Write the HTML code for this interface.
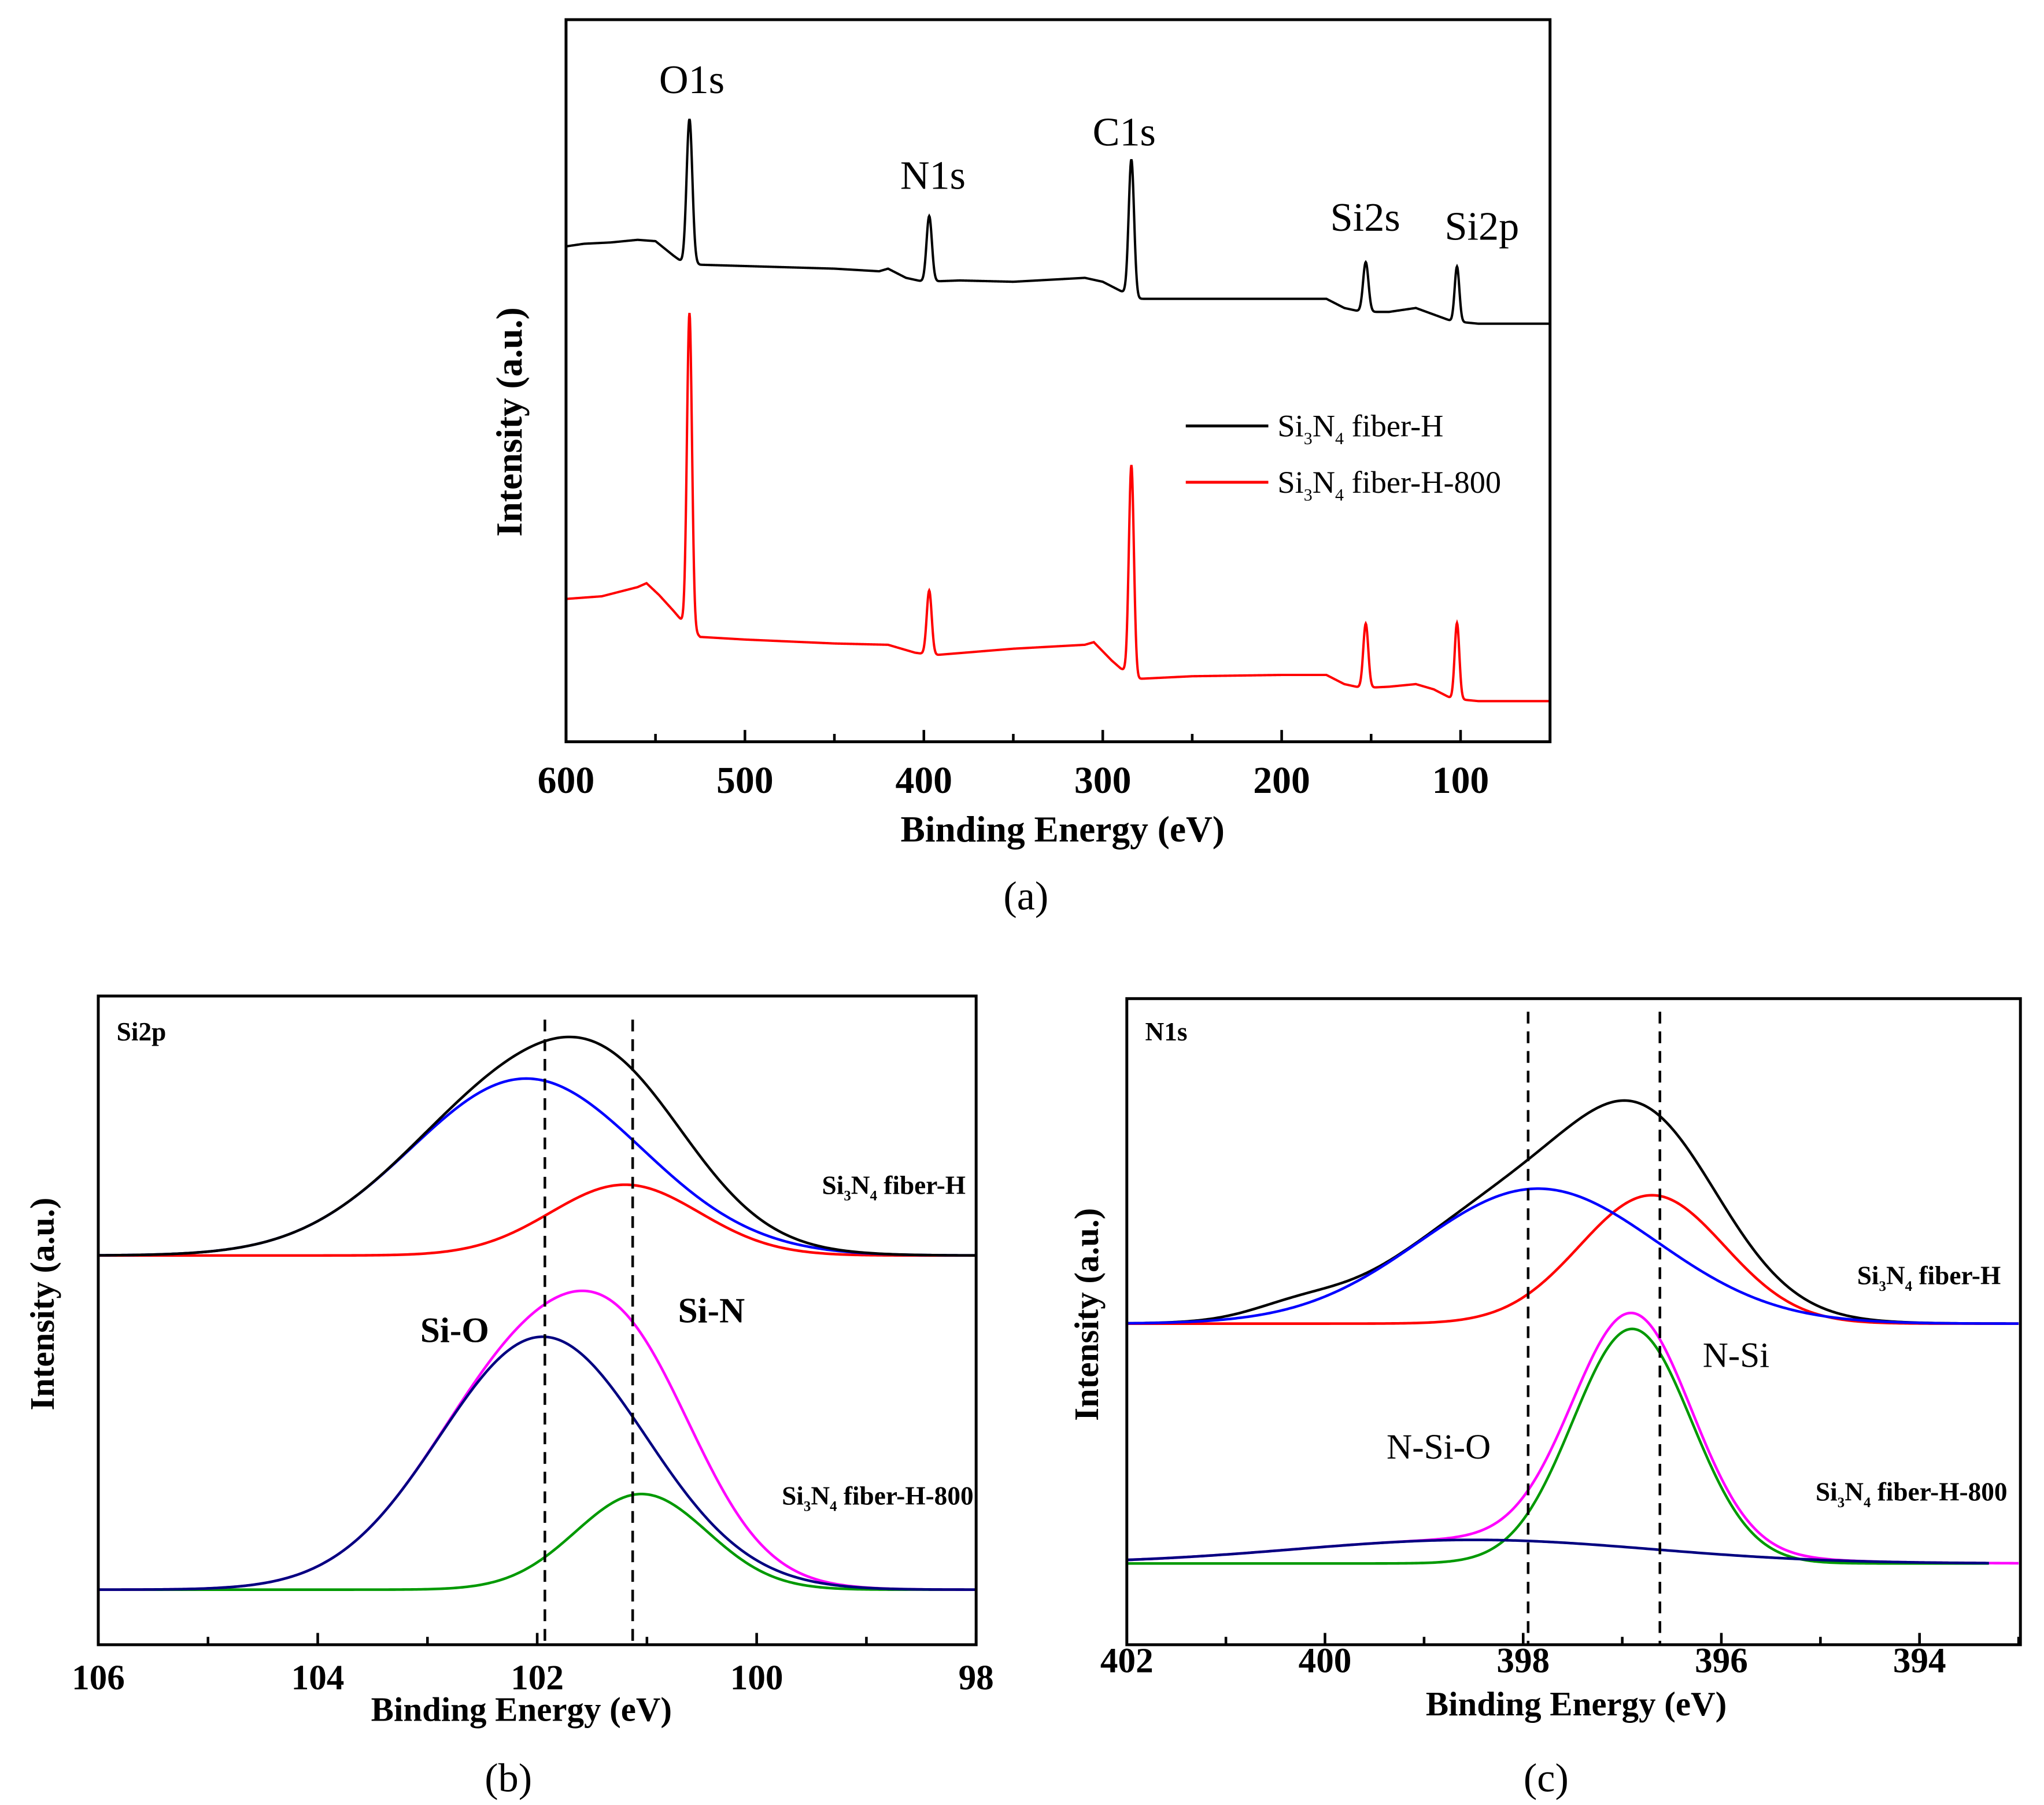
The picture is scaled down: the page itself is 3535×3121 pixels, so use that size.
<!DOCTYPE html>
<html><head><meta charset="utf-8"><style>
html,body{margin:0;padding:0;background:#fff;}
svg{display:block;}
text{font-family:"Liberation Serif",serif;fill:#000;}
</style></head><body>
<svg id="fig" width="3535" height="3121" viewBox="0 0 1560 1377.3" xmlns="http://www.w3.org/2000/svg">
<rect x="0" y="0" width="1560" height="1377.3" fill="#fff"/>
</svg>
<script>
// ---------- Panel (a) survey data ----------
const surveyTicks = [600, 500, 400, 300, 200, 100];
const surveyBaseH = [[600,378],[590,380],[575,381],[560,383],[550,382],[540,371],[535,366],[525,364],[500,363],[450,361],[425,359],[420,361],[410,354],[400,351],[380,352],[350,351],[310,354],[300,351],[290,344],[280,338],[200,338],[175,338],[165,331],[155,328],[140,328],[125,331],[115,326],[105,321],[90,319],[50,319]];
const surveyPeaksH = [[531,110,1.6],[397,50,1.5],[284,104,1.5],[153,38,1.5],[102,42,1.3]];
const surveyBaseR = [[600,109],[580,111],[560,118],[555,121],[548,112],[540,100],[535,92],[525,80],[500,78],[450,75],[420,74],[405,68],[395,66],[350,71],[310,74],[305,76],[295,62],[290,56],[280,48],[250,50],[200,51],[175,51],[165,44],[155,41],[140,42],[125,44],[115,40],[105,33],[90,31],[50,31]];
const surveyPeaksR = [[531,240,1.4],[397,49,1.4],[284,160,1.4],[153,49,1.4],[102,58,1.3]];
const surveyLabels = [["O1s",528,71],["N1s",712,144],["C1s",858,111],["Si2s",1042,176],["Si2p",1131,183]];

// ---------- Panel (b) Si2p components [center, height, sigma] ----------
const bTicks = [106, 104, 102, 100, 98];
const bHBlue = [102.1, 135, 1.05];
const bHRed = [101.2, 54, 0.68];
const b800Navy = [101.95, 193, 0.94];
const b800Green = [101.05, 73, 0.6];
const bDashed = [101.93, 101.13];

// ---------- Panel (c) N1s components ----------
const cTicks = [402, 400, 398, 396, 394];
const cHBlue = [397.85, 103, 1.2];
const cHRed = [396.7, 98, 0.73];
const cHShoulder = [400.3, 8, 0.45];
const c800Green = [396.9, 179, 0.6];
const c800Navy = [398.5, 18, 1.8];
const cDashed = [397.95, 396.62];

const NS = "http://www.w3.org/2000/svg";
const svg = document.getElementById('fig');
function el(tag, attrs, parent) {
  const e = document.createElementNS(NS, tag);
  for (const k in attrs) e.setAttribute(k, attrs[k]);
  (parent || svg).appendChild(e);
  return e;
}
function lin(d0, d1, r0, r1) { return v => r0 + (v - d0) * (r1 - r0) / (d1 - d0); }
function gauss(p, x) { return p[1] * Math.exp(-((x - p[0]) ** 2) / (2 * p[2] * p[2])); }
function interp(pts, x) {
  for (let i = 0; i < pts.length - 1; i++) {
    const a = pts[i], b = pts[i + 1];
    if ((x <= a[0] && x >= b[0])) { const t = (a[0] - x) / (a[0] - b[0]); return a[1] + t * (b[1] - a[1]); }
  }
  return pts[pts.length - 1][1];
}
function pathFrom(xs, fx, fy, f) {
  let d = "";
  xs.forEach((x, i) => { d += (i ? "L" : "M") + fx(x).toFixed(2) + "," + fy(f(x)).toFixed(2); });
  return d;
}
function range(a, b, step) { const r = []; for (let x = a; x >= b - 1e-9; x -= step) r.push(x); return r; }
function sub(t, parts, size) {
  parts.forEach(p => {
    const s = document.createElementNS(NS, 'tspan');
    s.textContent = p[0];
    if (p[1]) { s.setAttribute('font-size', size * 0.55); s.setAttribute('dy', size * 0.25); }
    else if (p[2]) { s.setAttribute('dy', -size * 0.25); }
    t.appendChild(s);
  });
}
function si3n4(x, y, size, rest, weight, anchor, name) {
  const t = el('text', {x: x, y: y, 'font-size': size, 'font-weight': weight, 'text-anchor': anchor});
  
  
  sub(t, [["Si", 0], ["3", 1], ["N", 0, 1], ["4", 1], [" " + rest, 0, 1]], size);
  return t;
}
function frame(x0, y0, x1, y1, name) {
  const r = el('rect', {x: x0, y: y0, width: x1 - x0, height: y1 - y0, fill: 'none', stroke: '#000', 'stroke-width': 2.2});
  
  
}

// ================= Panel (a) =================
{
  const X0 = 432, X1 = 1183, Y0 = 15, Y1 = 566;
  const fx = lin(600, 50, X0, X1);
  const fy = v => Y1 - v;
  const g = el('g', {});
  
  
  const xs = range(600, 50, 0.25);
  const fH = x => interp(surveyBaseH, x) + surveyPeaksH.reduce((s, p) => s + gauss(p, x), 0);
  const fR = x => interp(surveyBaseR, x) + surveyPeaksR.reduce((s, p) => s + gauss(p, x), 0);
  const pH = el('path', {d: pathFrom(xs, fx, fy, fH), fill: 'none', stroke: '#000', 'stroke-width': 1.8}, g);
  
  
  const pR = el('path', {d: pathFrom(xs, fx, fy, fR), fill: 'none', stroke: '#ff0000', 'stroke-width': 1.8}, g);
  
  
  frame(X0, Y0, X1, Y1, 'plot-frame-a');
  for (let v = 600; v >= 50; v -= 50) {
    const major = v % 100 === 0;
    const tk = el('line', {x1: fx(v), x2: fx(v), y1: Y1, y2: Y1 - (major ? 9 : 6), stroke: '#000', 'stroke-width': 2});
    
    
  }
  surveyTicks.forEach(v => {
    const t = el('text', {x: fx(v), y: 605, 'font-size': 29, 'font-weight': 'bold', 'text-anchor': 'middle'});
    t.textContent = v;
    
    
  });
  const xt = el('text', {x: 811, y: 642, 'font-size': 28, 'font-weight': 'bold', 'text-anchor': 'middle'});
  xt.textContent = 'Binding Energy (eV)';
  
  
  const yt = el('text', {x: 0, y: 0, 'font-size': 28, 'font-weight': 'bold', 'text-anchor': 'middle', transform: 'translate(398,322) rotate(-90)'});
  yt.textContent = 'Intensity (a.u.)';
  
  
  surveyLabels.forEach(l => {
    const t = el('text', {x: l[1], y: l[2], 'font-size': 31, 'text-anchor': 'middle'});
    t.textContent = l[0];
    
    
  });
  const l1 = el('line', {x1: 905, x2: 968, y1: 325, y2: 325, stroke: '#000', 'stroke-width': 2.2});
  
  
  const l2 = el('line', {x1: 905, x2: 968, y1: 368, y2: 368, stroke: '#ff0000', 'stroke-width': 2.2});
  
  
  si3n4(975, 333, 24, 'fiber-H', 'normal', 'start', 'legend-entry-fiber-h');
  si3n4(975, 376, 24, 'fiber-H-800', 'normal', 'start', 'legend-entry-fiber-h-800');
  const cap = el('text', {x: 783, y: 694, 'font-size': 31, 'text-anchor': 'middle'});
  cap.textContent = '(a)';
  
  
}

// ================= Panel (b) =================
{
  const X0 = 75, X1 = 745, Y0 = 760, Y1 = 1255;
  const fx = lin(106, 98, X0, X1);
  const baseTop = 958, baseBot = 1213;
  const xs = range(106, 98, 0.02);
  function curve(f, base, color, name) {
    const p = el('path', {d: pathFrom(xs, fx, v => base - v, f), fill: 'none', stroke: color, 'stroke-width': 2});
    
    
  }
  curve(x => gauss(bHRed, x), baseTop, '#ff0000', 'si-n-fit-fiber-h');
  curve(x => gauss(bHBlue, x), baseTop, '#0000ff', 'si-o-fit-fiber-h');
  curve(x => gauss(bHBlue, x) + gauss(bHRed, x), baseTop, '#000', 'envelope-fiber-h');
  curve(x => gauss(b800Green, x), baseBot, '#009900', 'si-n-fit-fiber-h-800');
  curve(x => gauss(b800Navy, x) + gauss(b800Green, x), baseBot, '#ff00ff', 'envelope-fiber-h-800');
  curve(x => gauss(b800Navy, x), baseBot, '#000080', 'si-o-fit-fiber-h-800');
  bDashed.forEach(v => {
    const d = el('line', {x1: fx(v), x2: fx(v), y1: 778, y2: 1255, stroke: '#000', 'stroke-width': 2, 'stroke-dasharray': '9,6'});
    
    
  });
  frame(X0, Y0, X1, Y1, 'plot-frame-b');
  for (let v = 106; v >= 98; v -= 1) {
    const tk = el('line', {x1: fx(v), x2: fx(v), y1: Y1, y2: Y1 - (v % 2 === 0 ? 9 : 6), stroke: '#000', 'stroke-width': 2});
    
    
  }
  bTicks.forEach(v => {
    const t = el('text', {x: fx(v), y: 1289, 'font-size': 27, 'font-weight': 'bold', 'text-anchor': 'middle'});
    t.textContent = v;
    
    
  });
  const xt = el('text', {x: 398, y: 1313, 'font-size': 26, 'font-weight': 'bold', 'text-anchor': 'middle'});
  xt.textContent = 'Binding Energy (eV)';
  
  
  const yt = el('text', {x: 0, y: 0, 'font-size': 26, 'font-weight': 'bold', 'text-anchor': 'middle', transform: 'translate(41,995) rotate(-90)'});
  yt.textContent = 'Intensity (a.u.)';
  
  
  const ttl = el('text', {x: 89, y: 794, 'font-size': 20, 'font-weight': 'bold'});
  ttl.textContent = 'Si2p';
  
  
  si3n4(737, 911, 20, 'fiber-H', 'bold', 'end', 'sample-label-fiber-h');
  si3n4(743, 1148, 20, 'fiber-H-800', 'bold', 'end', 'sample-label-fiber-h-800');
  const so = el('text', {x: 347, y: 1024, 'font-size': 27, 'font-weight': 'bold', 'text-anchor': 'middle'});
  so.textContent = 'Si-O';
  
  
  const sn = el('text', {x: 543, y: 1009, 'font-size': 27, 'font-weight': 'bold', 'text-anchor': 'middle'});
  sn.textContent = 'Si-N';
  
  
  const cap = el('text', {x: 388, y: 1367, 'font-size': 31, 'text-anchor': 'middle'});
  cap.textContent = '(b)';
  
  
}

// ================= Panel (c) =================
{
  const X0 = 860, X1 = 1542, Y0 = 762, Y1 = 1255;
  const fx = lin(402, 394, X0, 1465);
  const baseTop = 1010, baseBot = 1193;
  const xs = range(402, 393, 0.02);
  const xs2 = range(402, 393.3, 0.02);
  function curve(arr, f, base, color, name) {
    const p = el('path', {d: pathFrom(arr, fx, v => base - v, f), fill: 'none', stroke: color, 'stroke-width': 2});
    
    
  }
  curve(xs, x => gauss(cHBlue, x) + gauss(cHRed, x) + gauss(cHShoulder, x), baseTop, '#000', 'envelope-fiber-h');
  curve(xs, x => gauss(cHRed, x), baseTop, '#ff0000', 'n-si-fit-fiber-h');
  curve(xs, x => gauss(cHBlue, x), baseTop, '#0000ff', 'n-si-o-fit-fiber-h');
  curve(xs, x => gauss(c800Green, x) + gauss(c800Navy, x), baseBot, '#ff00ff', 'envelope-fiber-h-800');
  curve(xs2, x => gauss(c800Green, x), baseBot, '#009900', 'n-si-fit-fiber-h-800');
  curve(xs2, x => gauss(c800Navy, x), baseBot, '#000080', 'n-si-o-fit-fiber-h-800');
  cDashed.forEach(v => {
    const d = el('line', {x1: fx(v), x2: fx(v), y1: 772, y2: 1255, stroke: '#000', 'stroke-width': 2, 'stroke-dasharray': '9,6'});
    
    
  });
  frame(X0, Y0, X1, Y1, 'plot-frame-c');
  for (let v = 402; v >= 393; v -= 1) {
    const tk = el('line', {x1: fx(v), x2: fx(v), y1: Y1, y2: Y1 - (v % 2 === 0 ? 9 : 6), stroke: '#000', 'stroke-width': 2});
    
    
  }
  cTicks.forEach(v => {
    const t = el('text', {x: fx(v), y: 1276, 'font-size': 27, 'font-weight': 'bold', 'text-anchor': 'middle'});
    t.textContent = v;
    
    
  });
  const xt = el('text', {x: 1203, y: 1309, 'font-size': 26, 'font-weight': 'bold', 'text-anchor': 'middle'});
  xt.textContent = 'Binding Energy (eV)';
  
  
  const yt = el('text', {x: 0, y: 0, 'font-size': 26, 'font-weight': 'bold', 'text-anchor': 'middle', transform: 'translate(838,1003) rotate(-90)'});
  yt.textContent = 'Intensity (a.u.)';
  
  
  const ttl = el('text', {x: 874, y: 794, 'font-size': 20, 'font-weight': 'bold'});
  ttl.textContent = 'N1s';
  
  
  si3n4(1527, 980, 20, 'fiber-H', 'bold', 'end', 'sample-label-fiber-h');
  si3n4(1532, 1145, 20, 'fiber-H-800', 'bold', 'end', 'sample-label-fiber-h-800');
  const ns = el('text', {x: 1325, y: 1043, 'font-size': 27, 'text-anchor': 'middle'});
  ns.textContent = 'N-Si';
  
  
  const nso = el('text', {x: 1098, y: 1113, 'font-size': 27, 'text-anchor': 'middle'});
  nso.textContent = 'N-Si-O';
  
  
  const cap = el('text', {x: 1180, y: 1367, 'font-size': 31, 'text-anchor': 'middle'});
  cap.textContent = '(c)';
  
  
}
</script>
</body></html>
